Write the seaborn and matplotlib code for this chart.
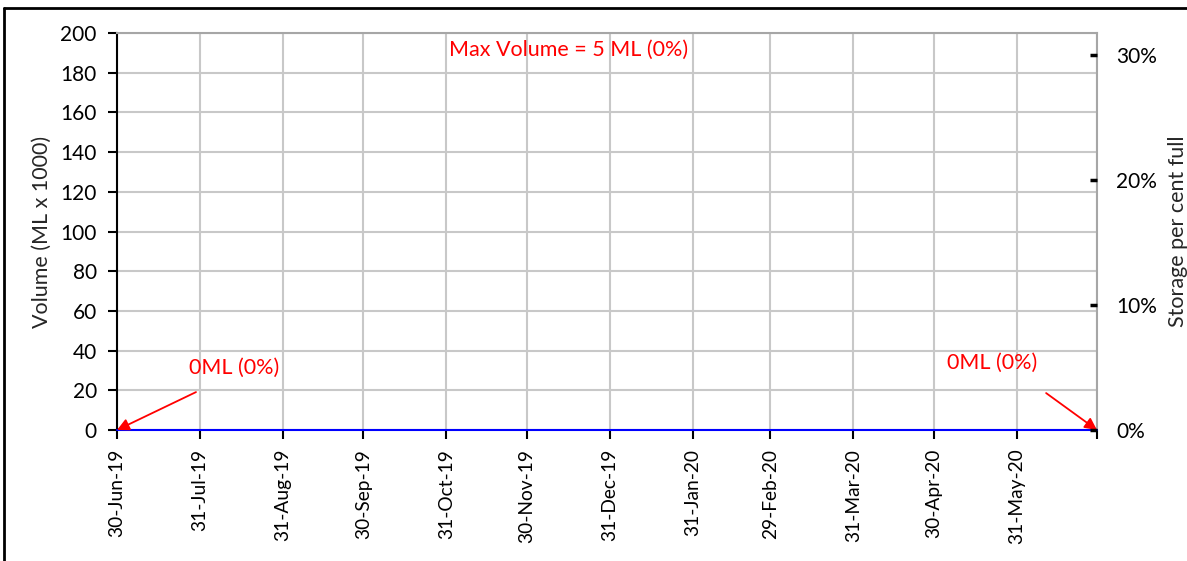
import matplotlib
matplotlib.use("Agg")
import matplotlib.pyplot as plt
from matplotlib.lines import Line2D
from matplotlib.ticker import FuncFormatter
import pandas as pd
import seaborn as sns

# Month-end storage readings (ML x 1000)
dates = ["2019-06-30", "2019-07-31", "2019-08-31", "2019-09-30", "2019-10-31",
         "2019-11-30", "2019-12-31", "2020-01-31", "2020-02-29", "2020-03-31",
         "2020-04-30", "2020-05-31", "2020-06-30"]
volume = [0, 0, 0, 0, 0, 0, 0, 0, 0, 0, 0, 0, 0]
tick_labels = ["30-Jun-19", "31-Jul-19", "31-Aug-19", "30-Sep-19", "31-Oct-19",
               "30-Nov-19", "31-Dec-19", "31-Jan-20", "29-Feb-20", "31-Mar-20",
               "30-Apr-20", "31-May-20", ""]
start_label = "0ML (0%)"
end_label = "0ML (0%)"
max_label = "Max Volume = 5 ML (0%)"

df = pd.DataFrame({"date": pd.to_datetime(dates), "volume": volume})

sns.set_theme(style="white")
plt.rcParams["font.family"] = ["Lato", "DejaVu Sans"]

W, H = 1187, 561
fig = plt.figure(figsize=(W / 100, H / 100), dpi=100)
fig.subplots_adjust(left=117 / W, right=1097 / W, top=1 - 33 / H, bottom=1 - 430 / H)
ax = fig.add_subplot(111)

YTICK_FS = 15
XTICK_FS = 13.8
LABEL_FS = 15.5
NOTE_FS = 15.5

grid_c = "#c8c8c8"
ax.set_xlim(df["date"].iloc[0], df["date"].iloc[-1])
ax.set_ylim(0, 200)
ax.set_yticks(range(0, 201, 20))
ax.set_xticks(df["date"])
ax.set_xticklabels(tick_labels, rotation=90)
ax.grid(True, color=grid_c, lw=1.5)
ax.set_axisbelow(True)

sns.lineplot(data=df, x="date", y="volume", ax=ax, color="#0000ff", lw=1.5,
             clip_on=False, zorder=5)
ax.set_xlabel("")
ax.set_ylabel("Volume (ML x 1000)", fontsize=LABEL_FS, labelpad=6)

for s in ["top", "right"]:
    ax.spines[s].set_color("#a6a6a6")
    ax.spines[s].set_linewidth(1.5)
ax.spines["left"].set_color("black")
ax.spines["left"].set_linewidth(1.5)
ax.spines["bottom"].set_color("black")
ax.tick_params(axis="both", which="major", direction="out", length=6.5, width=1.5,
               color="black", labelcolor="black", left=True, bottom=True)
ax.tick_params(axis="x", pad=7, labelsize=XTICK_FS)
ax.tick_params(axis="y", pad=8, labelsize=YTICK_FS)

# Secondary axis: percentage of capacity
ax2 = ax.twinx()
ax2.set_ylim(0, 0.3176)
ax2.set_yticks([0, 0.1, 0.2, 0.3])
ax2.yaxis.set_major_formatter(FuncFormatter(lambda v, p: f"{v * 100:.0f}%"))
ax2.tick_params(axis="y", direction="in", length=5, width=2.5, color="black",
                labelsize=YTICK_FS, labelcolor="black", right=True, pad=14)
ax2.set_ylabel("Storage per cent full", fontsize=LABEL_FS, labelpad=8)
for s in ax2.spines.values():
    s.set_visible(False)

# Annotations
red = "#ff0000"
d0, d1 = df["date"].iloc[0], df["date"].iloc[-1]
v0, v1 = df["volume"].iloc[0], df["volume"].iloc[-1]
arrow = dict(arrowstyle="-|>", color=red, lw=1.3, mutation_scale=18,
             shrinkA=0, shrinkB=0)
ax.annotate("", xy=(d0, v0), xytext=(d0 + pd.Timedelta(days=29.5), 19.1),
            arrowprops=arrow, annotation_clip=False, zorder=6)
ax.text(d0 + pd.Timedelta(days=27), 31.2, start_label, color=red, fontsize=NOTE_FS,
        va="center", ha="left")
ax.annotate("", xy=(d1, v1), xytext=(d0 + pd.Timedelta(days=347), 18.6),
            arrowprops=arrow, annotation_clip=False, zorder=6)
ax.text(d0 + pd.Timedelta(days=310), 33.8, end_label, color=red, fontsize=NOTE_FS,
        va="center", ha="left")
ax.text(0.461, 0.957, max_label, transform=ax.transAxes, color=red, fontsize=NOTE_FS,
        va="center", ha="center")

# Chart frame
fig.add_artist(Line2D([4 / W, 4 / W], [0, 1 - 8 / H], color="black", lw=2,
                      transform=fig.transFigure))
fig.add_artist(Line2D([4 / W, 1], [1 - 8 / H, 1 - 8 / H], color="black", lw=2,
                      transform=fig.transFigure))

fig.savefig("out.png", dpi=100, facecolor="white")
